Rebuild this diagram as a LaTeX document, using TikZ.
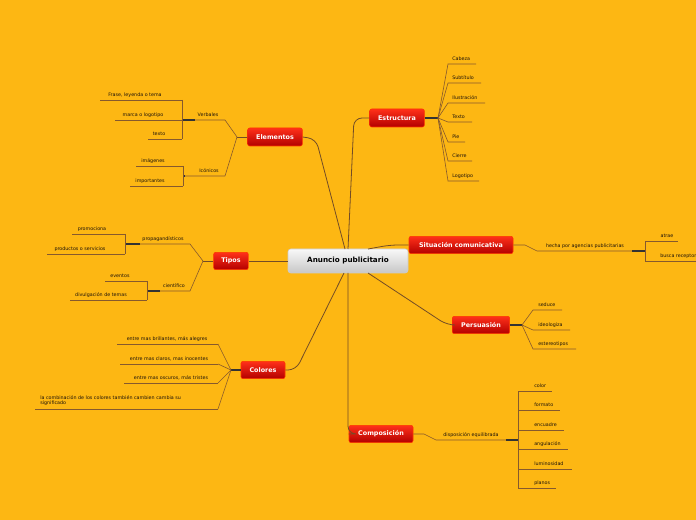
\documentclass[tikz,border=0pt]{standalone}
\usepackage{fontspec}
\setmainfont{DejaVu Sans}
\begin{document}
\begin{tikzpicture}[x=0.75pt,y=-0.75pt,
  conn/.style={draw=brown!60!black,line width=0.6pt,rounded corners=6pt},
  lline/.style={draw=brown!70!black,line width=0.45pt},
  thk/.style={draw=black!80,line width=0.9pt},
  leaftxt/.style={font=\fontsize{3.6pt}{4.2pt}\selectfont,text=black!85!brown,inner sep=0pt,anchor=base},
  mainnode/.style={rounded corners=1.5pt,draw=red!60!orange,line width=0.4pt,top color=red!80!orange!90!white,bottom color=red!70!black,text=white,font=\fontsize{4.8pt}{5pt}\selectfont\bfseries,inner sep=0pt}]
\useasboundingbox (0,0) rectangle (696,520);
\fill[fill={rgb,255:red,253;green,183;blue,19}] (0,0) rectangle (696,520);
\newcommand\lf[6]{\draw[lline] (#4,#3) -- (#5,#3); \node[leaftxt] (#1) at (#2,#3-3.5) {#6};}
% central
\node[rounded corners=2pt,draw=white!80!black,top color=white!95!gray,bottom color=black!22,minimum width=90pt,minimum height=18pt,font=\fontsize{5.4pt}{6pt}\selectfont\bfseries,text=black] (c) at (348,261) {Anuncio publicitario};
% main
\node[mainnode,minimum width=41pt,minimum height=13.5pt] (ele) at (275,137) {Elementos};
\node[mainnode,minimum width=41pt,minimum height=13.5pt] (est) at (397,118) {Estructura};
\node[mainnode,minimum width=26pt,minimum height=13pt] (tip) at (231,261) {Tipos};
\node[mainnode,minimum width=78pt,minimum height=13pt] (sit) at (461,245) {Situación comunicativa};
\node[mainnode,minimum width=43pt,minimum height=13pt] (per) at (481,325) {Persuasión};
\node[mainnode,minimum width=33pt,minimum height=13pt] (col) at (263,370) {Colores};
\node[mainnode,minimum width=48pt,minimum height=13pt] (com) at (381,434) {Composición};
% center connectors
\draw[conn] (345,249) -- (316,139) -- (ele.east);
\draw[conn] (348,249) -- (354,118) -- (est.west);
\draw[conn] (c.west) -- (tip.east);
\draw[conn] (368,249) -- (390,245) -- (sit.west);
\draw[conn] (368,273) -- (447,325) -- (per.west);
\draw[conn] (344,273) -- (296,370) -- (col.east);
\draw[conn] (348,273) -- (348,434) -- (com.west);
% Estructura leaves
\coordinate (eh) at (438,118);
\draw[thk] (est.east) -- (eh);
\foreach \t/\y/\xe in {Cabeza/64/476,Subtítulo/83/481,Ilustración/103/485,Texto/122/472,Pie/142/465,Cierre/161/472,Logotipo/181/479}{
  \draw[lline] (eh) -- (448,\y) -- (\xe,\y);
  \node[leaftxt,anchor=base west] at (452,\y-3.5) {\t};}
% Elementos
\coordinate (elh) at (237,137);
\draw[conn,rounded corners=0pt] (ele.west) -- (elh);
\draw[lline] (elh) -- (225,120) -- (185,120);
\draw[lline] (elh) -- (225,176) -- (185,176);
\node[leaftxt] (verb) at (208,116.5) {Verbales};
\node[leaftxt] (icon) at (209,172.5) {Icónicos};
\draw[thk] (195,120) -- (182,120);
\draw[lline] (182,100) -- (182,139);
\lf{f1}{135}{100}{100}{182}{Frase, leyenda o tema}
\lf{f2}{143}{120}{115}{182}{marca o logotipo}
\lf{f3}{159}{139}{148}{182}{texto}
\draw[thk] (185,176) -- (183,176);
\draw[lline] (183,166) -- (183,186);
\lf{f4}{153}{166}{136}{183}{imágenes}
\lf{f5}{150}{186}{130}{183}{importantes}
% Tipos
\coordinate (th) at (203,261);
\draw[conn,rounded corners=0pt] (tip.west) -- (th);
\draw[lline] (th) -- (190,244) -- (140,244);
\draw[lline] (th) -- (190,291) -- (160,291);
\node[leaftxt] (prop) at (163,240.5) {propagandísticos};
\node[leaftxt] (cien) at (174,287.5) {científico};
\draw[thk] (140,244) -- (125,244);
\draw[lline] (125,234) -- (125,254);
\lf{t1}{92}{234}{72}{125}{promociona}
\lf{t2}{80}{254}{47}{125}{productos o servicios}
\draw[thk] (160,291) -- (147,291);
\draw[lline] (147,281) -- (147,300);
\lf{t3}{120}{281}{105}{147}{eventos}
\lf{t4}{101}{300}{70}{147}{divulgación de temas}
% Colores
\coordinate (ch) at (231,370);
\draw[thk] (col.west) -- (ch);
\foreach \y in {344,364,383,409}{\draw[lline] (ch) -- (218,\y);}
\lf{c1}{167}{344}{117}{218}{entre mas brillantes, más alegres}
\lf{c2}{169}{364}{120}{218}{entre mas claros, mas inocentes}
\lf{c3}{171}{383}{124}{218}{entre mas oscuros, más tristes}
\draw[lline] (35,409) -- (218,409);
\node[leaftxt,anchor=north west,align=left] (c4) at (40,395) {la combinación de los colores también cambien cambia su\\significado};
% Situación
\draw[lline] (sit.east) -- (525,245) -- (537,251) -- (632,251);
\node[leaftxt] (hecha) at (585,247.5) {hecha por agencias publicitarias};
\draw[thk] (632,251) -- (645,251);
\draw[lline] (645,241) -- (645,261);
\lf{s1}{667}{241}{645}{678}{atrae}
\draw[lline] (645,261) -- (696,261);
\node[leaftxt,anchor=base west] (s2) at (660,257.5) {busca receptores};
% Persuasión
\coordinate (ph) at (522,325);
\draw[thk] (per.east) -- (ph);
\foreach \t/\y/\xe in {seduce/310/562,ideologiza/330/570,estereotipos/349/576}{
  \draw[lline] (ph) -- (533,\y) -- (\xe,\y);
  \node[leaftxt,anchor=base west] at (538,\y-3.5) {\t};}
% Composición
\draw[lline] (com.east) -- (424,434) -- (436,440) -- (506,440);
\node[leaftxt] (disp) at (471,436.5) {disposición equilibrada};
\draw[thk] (506,440) -- (518,440);
\draw[lline] (518,391) -- (518,488);
\foreach \t/\y/\xe in {color/391/552,formato/410/560,encuadre/430/564,angulación/449/568,luminosidad/469/572,planos/488/556}{
  \draw[lline] (518,\y) -- (\xe,\y);
  \node[leaftxt,anchor=base west] at (534,\y-3.5) {\t};}
\end{tikzpicture}
\end{document}
